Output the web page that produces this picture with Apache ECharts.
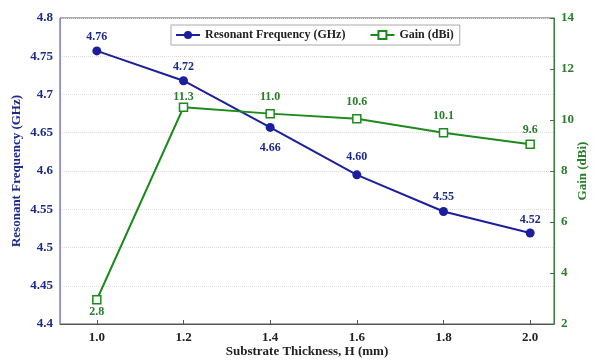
<!DOCTYPE html>
<html><head><meta charset="utf-8">
<script src="https://cdn.jsdelivr.net/npm/echarts@6/dist/echarts.min.js"></script>
<style>html,body{margin:0;padding:0;background:#fff}#c{width:595px;height:360px}</style>
</head><body><div id="c"></div>
<script>
const thickness = [1.0, 1.2, 1.4, 1.6, 1.8, 2.0];
const freqValues = [4.757, 4.718, 4.657, 4.595, 4.547, 4.519];
const freqLabels = ['4.76', '4.72', '4.66', '4.60', '4.55', '4.52'];
const gainValues = [2.95, 10.5, 10.25, 10.05, 9.5, 9.05];
const gainLabels = ['2.8', '11.3', '11.0', '10.6', '10.1', '9.6'];
const xTicks = [1.0, 1.2, 1.4, 1.6, 1.8, 2.0];

const FONT = 'Liberation Serif';
const BLUE = '#1b1f9c';
const BLUE_T = '#1c2a8c';
const GREEN = '#1e8a1e';
const GREEN_T = '#2a7d2a';

const freqDist = [3, 3, 10, 7, 4, 3];
const gainDist = [1, 0, 6, 6, 6, 4];

const chart = echarts.init(document.getElementById('c'), null, {renderer: 'canvas'});
chart.setOption({
  animation: false,
  grid: {left: 60, right: 41, top: 18, bottom: 36, show: true, borderColor: '#555', borderWidth: 1,
    containLabel: false, outerBoundsMode: 'none'},
  legend: {
    top: 25, left: 171, itemGap: 24, itemWidth: 24, itemHeight: 10,
    backgroundColor: '#fff', borderColor: '#aaa', borderWidth: 1, padding: [4, 6, 4, 4],
    textStyle: {fontFamily: FONT, fontWeight: 'bold', fontSize: 12, color: '#222'},
    data: ['Resonant Frequency (GHz)', 'Gain (dBi)']
  },
  xAxis: {
    type: 'value', min: 0.915, max: 2.055,
    name: 'Substrate Thickness, H (mm)', nameLocation: 'middle', nameGap: 28, nameMoveOverlap: false,
    nameTextStyle: {fontFamily: FONT, fontWeight: 'bold', fontSize: 13, color: '#222', verticalAlign: 'middle'},
    axisLine: {lineStyle: {color: '#555'}},
    axisTick: {inside: true, length: 4, lineStyle: {color: '#555'}, customValues: xTicks},
    axisLabel: {customValues: xTicks, formatter: v => v.toFixed(1), fontFamily: FONT, fontWeight: 'bold', fontSize: 13, color: '#222', margin: 7},
    splitLine: {show: false}
  },
  yAxis: [{
    type: 'value', min: 4.4, max: 4.8, interval: 0.05,
    name: 'Resonant Frequency (GHz)', nameLocation: 'middle', nameGap: 43, nameMoveOverlap: false,
    nameTextStyle: {fontFamily: FONT, fontWeight: 'bold', fontSize: 13, color: BLUE_T, verticalAlign: 'middle'},
    axisLine: {show: true, lineStyle: {color: '#8f8fd0'}},
    axisTick: {show: false},
    axisLabel: {fontFamily: FONT, fontWeight: 'bold', fontSize: 13, color: BLUE_T, margin: 7,
      formatter: v => String(parseFloat(v.toFixed(2)))},
    splitLine: {show: true, lineStyle: {color: '#ddd', type: 'dotted'}}
  }, {
    type: 'value', min: 2, max: 14, interval: 2, position: 'right',
    name: 'Gain (dBi)', nameLocation: 'middle', nameGap: 29, nameRotate: 90, nameMoveOverlap: false,
    nameTextStyle: {fontFamily: FONT, fontWeight: 'bold', fontSize: 13, color: GREEN_T, verticalAlign: 'middle'},
    axisLine: {show: true, lineStyle: {color: '#3a7a3a'}},
    axisTick: {show: true, inside: true, length: 4, lineStyle: {color: '#3a7a3a'}},
    axisLabel: {fontFamily: FONT, fontWeight: 'bold', fontSize: 13, color: GREEN_T, margin: 7},
    splitLine: {show: false}
  }],
  series: [{
    name: 'Resonant Frequency (GHz)', type: 'line', yAxisIndex: 0,
    symbol: 'circle', symbolSize: 9,
    lineStyle: {color: BLUE, width: 2}, itemStyle: {color: BLUE},
    data: thickness.map((x, i) => ({
      value: [x, freqValues[i]],
      label: {show: true, position: i === 2 ? 'bottom' : 'top', formatter: freqLabels[i],
        fontFamily: FONT, fontWeight: 'bold', fontSize: 12, color: BLUE_T, distance: freqDist[i]}
    }))
  }, {
    name: 'Gain (dBi)', type: 'line', yAxisIndex: 1,
    symbol: 'rect', symbolSize: 8,
    lineStyle: {color: GREEN, width: 2}, itemStyle: {color: '#fff', borderColor: GREEN, borderWidth: 1.5},
    data: thickness.map((x, i) => ({
      value: [x, gainValues[i]],
      label: {show: true, position: i === 0 ? 'bottom' : 'top', formatter: gainLabels[i],
        fontFamily: FONT, fontWeight: 'bold', fontSize: 12, color: GREEN_T, distance: gainDist[i]}
    }))
  }]
});
</script></body></html>
